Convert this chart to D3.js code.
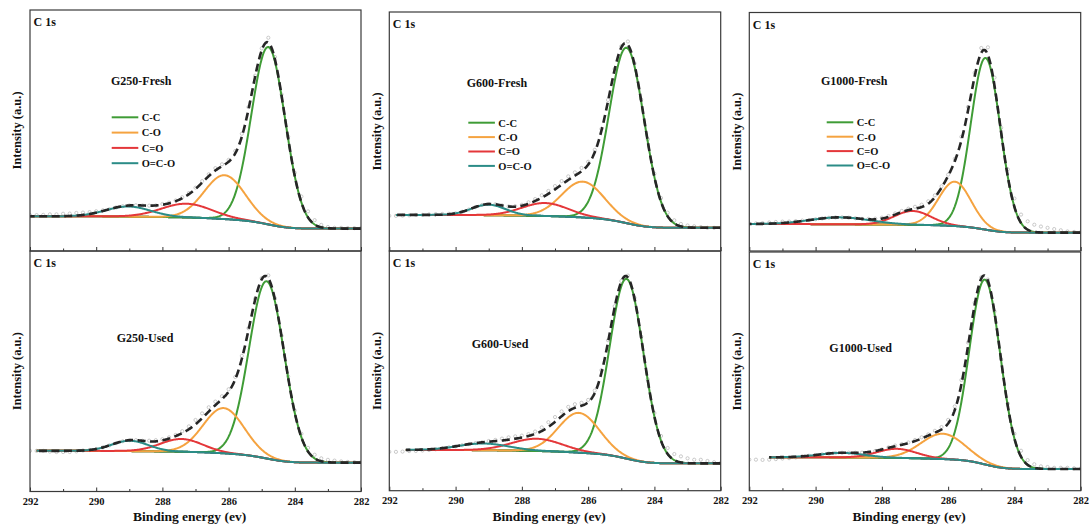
<!DOCTYPE html>
<html>
<head>
<meta charset="utf-8">
<script src="https://cdn.jsdelivr.net/npm/d3@7"></script>
<style>
  body { margin: 0; background: #fff; }
  text { font-family: "Liberation Serif", "Times New Roman", serif; font-weight: bold; fill: #111; }
</style>
</head>
<body>
<svg id="chart" width="1089" height="529"></svg>
<script>
// ---- C 1s XPS fits: six samples, four components each ----
const sampleNames = ["G250-Fresh", "G600-Fresh", "G1000-Fresh", "G250-Used", "G600-Used", "G1000-Used"];
const componentNames = ["C-C", "C-O", "C=O", "O=C-O"];
const majorTicks = [292, 290, 288, 286, 284, 282];
const minorTicks = [291, 289, 287, 285, 283];

// peak positions (eV), one row per sample, columns follow componentNames
const peakCenters = [
  [284.80, 286.12, 287.27, 289.03],
  [284.84, 286.16, 287.30, 289.01],
  [284.87, 285.80, 287.07, 289.26],
  [284.85, 286.15, 287.42, 288.98],
  [284.84, 286.28, 287.55, 289.16],
  [284.89, 286.16, 287.55, 289.21]
];
// peak heights above background (a.u.)
const peakHeights = [
  [73.6, 18.2, 5.7, 4.2],
  [73.4, 15.0, 5.4, 4.4],
  [72.0, 18.6, 5.8, 2.9],
  [73.7, 18.8, 5.3, 4.3],
  [75.0, 16.6, 5.1, 2.8],
  [77.4, 10.6, 3.8, 1.9]
];
// peak widths, FWHM (eV)
const peakFwhm = [
  [1.20, 1.45, 1.80, 1.60],
  [1.25, 1.50, 1.65, 1.20],
  [1.05, 1.15, 1.30, 2.10],
  [1.25, 1.45, 1.50, 1.30],
  [1.20, 1.45, 1.80, 1.80],
  [1.10, 1.55, 1.40, 1.60]
];
// Shirley background end levels: low-BE side (282 eV) and high-BE side (292 eV)
const bgLow  = [9.3, 9.7, 7.7, 12.0, 11.4, 9.1];
const bgHigh = [14.4, 15.1, 11.3, 16.9, 17.0, 14.0];
// upper energy limit of the fitted region
const fitStart = [292.0, 291.8, 292.0, 291.8, 291.5, 291.4];

// measured spectra, 292 -> 282 eV in 0.2 eV steps, as deviation from the fit envelope
const rawResidual = [
  [0.5,0.5,0.6,0.8,0.8, 1.0,1.0,1.1,1.0,0.8,0.6, 0.3,0,0,0,0,0, 0,0,0,0.3,0.3,0.3, 0.4,0.5,0.5,0.6,0.8,1.0,
   0.8,0.8,1.0,1.2,1.0, 0.5,0.8,2.0,1.0,0.5,0.8, 1.5,2.5,2.5,1.8,1.0, 0.5,0.3,0.3,0.2,0.2,0.2],
  [-0.4,-0.4,-0.3,-0.2,0, 0,0.2,0.3,0.3,0.2,0, 0,0,0,0,0,0, 0,0,0.2,0.4,0.6,0.8, 1.0,1.2,1.4,1.5,1.5,1.4,
   1.4,1.2,1.0,0.8,0.5, 0.3,0.5,1.4,0.5,0.6,1.0, 1.4,1.6,1.5,1.3,1.0, 0.8,0.6,0.3,0,0,0],
  [0.2,0.2,0.3,0.5,0.6, 0.6,0.4,0.3,0.2,0,0, 0,0,0,0,0,0, 0,0.2,0.3,0.4,0.4,0.5, 0.5,0.6,0.8,1.0,1.0,0.8,
   0.6,0.5,1.0,1.5,1.5, 1.5,2.0,3.2,3.5,2.0,3.0, 3.5,3.5,3.5,3.0,2.5, 2.0,1.5,1.0,0.5,0.3,0.2],
  [0,0,0,-0.3,-0.5, -0.5,-0.5,-0.3,0,0,0, 0,0,0,0,0,0, 0,0.3,0.5,0.5,0.5,0.5, 0.8,1.2,1.8,2.0,1.8,1.5,
   1.2,1.0,1.0,1.2,0.8, 0.5,0.5,1.2,0.5,0.3,0.5, 1.0,1.5,1.5,1.5,1.2, 1.0,0.8,0.5,0.3,0.2,0.2],
  [-0.8,-0.8,-0.7,-0.5,-0.5, -0.4,-0.3,-0.2,0,0,0, 0,0,0,0,0.3,0.5, 0.8,1.0,1.0,0.8,0.8,1.0, 1.5,2.0,2.0,2.0,1.8,1.5,
   1.2,1.0,1.0,1.2,0.8, 0.5,0.3,0.8,0.3,0.3,0.5, 1.5,2.0,2.5,2.5,2.5, 2.0,1.5,1.5,1.0,0.5,0.2],
  [-1.0,-1.0,-1.1,-1.0,-0.8, -0.6,-0.5,-0.3,0,0,0, 0,0,0,0,0,0, 0,0,0,0,0.2,0.3, 0.3,0.3,0.5,0.5,0.5,0.8,
   1.0,1.5,1.5,1.8,1.5, 1.0,0.5,0.5,0.5,0.5,1.0, 2.0,2.5,2.0,1.5,1.0, 0.8,0.5,0.5,0.5,0.3,0.2]
];

// ---- layout ----
const colX = [[30, 361], [389.3, 720.7], [749.3, 1080.7]];
const rowY = [[[10, 251], [12, 251], [12.5, 251]], [[251, 491.5], [251, 490.7], [252, 490.7]]];
const titleOffset = [[81, 75], [77.4, 75.3], [71.7, 72.5], [86.7, 90.7], [82.4, 97.3], [80, 99.7]];
const legendOffset = [[81.7, 107.3, 15.3], [79, 110.7, 14.4], [77.4, 109.8, 14.4]];
const colors = ["#3f9c36", "#f5a340", "#e4373a", "#2b8c87"];

const svg = d3.select("#chart");
const defs = svg.append("defs");

function fwhmGauss(E, c, h, w) {
  const d = (E - c) / w;
  return h * Math.exp(-4 * Math.LN2 * d * d);
}

sampleNames.forEach((name, p) => {
  const col = p % 3, row = Math.floor(p / 3);
  const [x0, x1] = colX[col];
  const [y0, y1] = rowY[row][col];

  const xs = d3.scaleLinear().domain([292, 282]).range([x0, x1]);
  const ys = d3.scaleLinear().domain([0, 100]).range([y1, y0]);

  // energy grid, ascending, for the fitted curves and Shirley background
  const dE = 0.02;
  const grid = d3.range(0, 501).map(j => 282 + j * dE);
  const comps = peakCenters[p].map((c, k) =>
    grid.map(E => fwhmGauss(E, c, peakHeights[p][k], peakFwhm[p][k])));
  const total = grid.map((E, j) => d3.sum(comps, cc => cc[j]));
  const cum = [0];
  for (let j = 1; j < grid.length; j++) cum.push(cum[j - 1] + (total[j] + total[j - 1]) / 2 * dE);
  const area = cum[cum.length - 1];
  const bg = cum.map(a => bgLow[p] + (bgHigh[p] - bgLow[p]) * a / area);
  const envelope = total.map((t, j) => t + bg[j]);
  const idxOf = E => Math.round((E - 282) / dE);

  const clipId = "clip" + p;
  defs.append("clipPath").attr("id", clipId)
    .append("rect").attr("x", x0).attr("y", y0).attr("width", x1 - x0).attr("height", y1 - y0);

  const g = svg.append("g");
  const plot = g.append("g").attr("clip-path", `url(#${clipId})`);

  const inFit = grid.map((E, j) => j).filter(j => grid[j] <= fitStart[p] + 1e-9);
  const pathOf = series => d3.line().x(j => xs(grid[j])).y(j => ys(series[j]))(inFit);

  // measured points
  const rawE = d3.range(0, 51).map(i => 292 - i * 0.2);
  plot.append("g").selectAll("circle")
    .data(rawE.map((E, i) => [E, envelope[idxOf(E)] + rawResidual[p][i]]))
    .join("circle")
    .attr("cx", d => xs(d[0])).attr("cy", d => ys(d[1])).attr("r", 1.6)
    .attr("fill", "none").attr("stroke", "#b4b4b4").attr("stroke-width", 0.7);

  // background
  plot.append("path").attr("d", pathOf(bg))
    .attr("fill", "none").attr("stroke", "#333").attr("stroke-width", 2);

  // components sitting on the background
  comps.forEach((cc, k) => {
    plot.append("path").attr("d", pathOf(cc.map((v, j) => v + bg[j])))
      .attr("fill", "none").attr("stroke", colors[k]).attr("stroke-width", 2)
      .attr("stroke-linejoin", "round");
  });

  // fit envelope
  plot.append("path").attr("d", pathOf(envelope))
    .attr("fill", "none").attr("stroke", "#262626").attr("stroke-width", 2.6)
    .attr("stroke-dasharray", "8,4.5");

  // bottom axis, ticks pointing inward
  const axis = d3.axisBottom(xs).tickValues(majorTicks).tickSizeInner(-4).tickSizeOuter(0).tickPadding(6)
    .tickFormat(row === 1 ? d3.format("d") : () => "");
  const ax = g.append("g").attr("transform", `translate(0,${y1})`).call(axis);
  ax.select(".domain").remove();
  ax.selectAll(".tick line").attr("stroke", "#333");
  ax.selectAll(".tick text").style("font-size", "10.5px").style("font-family", "Liberation Serif, serif")
    .style("font-weight", "bold").attr("fill", "#222");
  const axm = g.append("g").attr("transform", `translate(0,${y1})`)
    .call(d3.axisBottom(xs).tickValues(minorTicks).tickSizeInner(-2.5).tickSizeOuter(0).tickFormat(() => ""));
  axm.select(".domain").remove();
  axm.selectAll(".tick line").attr("stroke", "#333");

  // frame
  g.append("rect").attr("x", x0).attr("y", y0).attr("width", x1 - x0).attr("height", y1 - y0)
    .attr("fill", "none").attr("stroke", "#3a3a3a").attr("stroke-width", 1.2);

  // labels
  g.append("text").attr("x", x0 + 3.5).attr("y", y0 + 16).style("font-size", "12px").text("C 1s");
  g.append("text").attr("x", x0 + titleOffset[p][0]).attr("y", y0 + titleOffset[p][1])
    .style("font-size", "12px").text(name);
  g.append("text")
    .attr("transform", `translate(${x0 - 13},${(y0 + y1) / 2}) rotate(-90)`)
    .attr("text-anchor", "middle").attr("dy", "0.35em")
    .style("font-size", "12.5px").text("Intensity (a.u.)");

  if (row === 0) {
    const [lx, ly, ls] = legendOffset[col];
    componentNames.forEach((cn, k) => {
      const yy = y0 + ly + k * ls;
      g.append("line").attr("x1", x0 + lx).attr("x2", x0 + lx + 26.6).attr("y1", yy).attr("y2", yy)
        .attr("stroke", colors[k]).attr("stroke-width", 2);
      g.append("text").attr("x", x0 + lx + 30).attr("y", yy + 3.8).style("font-size", "10.5px").text(cn);
    });
  } else {
    g.append("text").attr("x", (x0 + x1) / 2 - 6).attr("y", 520.5).attr("text-anchor", "middle")
      .style("font-size", "13.5px").text("Binding energy (ev)");
  }
});
</script>
</body>
</html>
